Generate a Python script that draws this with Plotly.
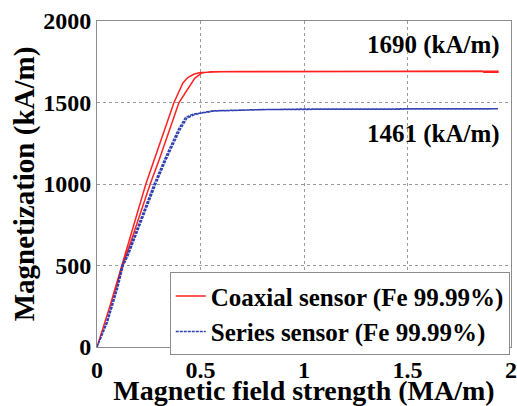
import plotly.graph_objects as go

# Coaxial sensor (Fe 99.99%) - ascending branch then descending branch
coax_up_H = [0, 0.06, 0.125, 0.257, 0.30, 0.396, 0.44, 0.473, 0.507, 0.55, 0.7, 1.0, 1.5, 1.86, 1.87, 1.937]
coax_up_M = [0, 235, 500, 1000, 1147, 1500, 1590, 1650, 1681, 1688, 1690, 1691, 1691, 1691, 1686, 1686]
coax_dn_H = [1.937, 1.5, 1.0, 0.8, 0.6, 0.5, 0.47, 0.44, 0.415, 0.372, 0.275, 0.236, 0.12, 0.06, 0]
coax_dn_M = [1691, 1691, 1691, 1690, 1688, 1684, 1675, 1655, 1620, 1500, 1147, 1000, 500, 240, 0]

# Series sensor (Fe 99.99%)
ser_up_H = [0, 0.05, 0.1, 0.127, 0.15, 0.284, 0.333, 0.40, 0.435, 0.47, 0.507, 0.57, 0.8, 1.0, 1.5, 1.937]
ser_up_M = [0, 150, 362, 500, 560, 1000, 1147, 1330, 1405, 1425, 1435, 1448, 1456, 1460, 1461, 1461]
ser_dn_H = [1.937, 1.5, 1.0, 0.8, 0.56, 0.50, 0.46, 0.427, 0.392, 0.325, 0.276, 0.143, 0.12, 0.095, 0.045, 0]
ser_dn_M = [1461, 1461, 1460, 1457, 1449, 1437, 1427, 1407, 1332, 1147, 1000, 560, 500, 362, 150, 0]

x_ticks = [0, 0.5, 1, 1.5, 2]
x_ticklabels = ["0", "0.5", "1", "1.5", "2"]
y_ticks = [0, 500, 1000, 1500, 2000]
y_ticklabels = ["0", "500", "1000", "1500", "2000"]

series_names = ["Coaxial sensor (Fe 99.99%)", "Series sensor (Fe 99.99%)"]
sat_labels = ["1690 (kA/m)", "1461 (kA/m)"]

FONT = "Liberation Serif, Times New Roman, serif"
RED = "#ff2020"
BLUE = "#2f3fb0"


def b(s):
    return "<b>" + s + "</b>"


fig = go.Figure()
fig.add_trace(go.Scatter(x=coax_up_H + coax_dn_H, y=coax_up_M + coax_dn_M, mode="lines",
                         line=dict(color=RED, width=1.5), name=b(series_names[0])))
fig.add_trace(go.Scatter(x=ser_up_H + ser_dn_H, y=ser_up_M + ser_dn_M, mode="lines",
                         line=dict(color=BLUE, width=1.5, dash="3px,1px"),
                         name=b(series_names[1])))

fig.add_annotation(x=1.955, y=1853, text=b(sat_labels[0]), showarrow=False, xanchor="right",
                   yanchor="middle", font=dict(family=FONT, size=25, color="black"))
fig.add_annotation(x=1.955, y=1307, text=b(sat_labels[1]), showarrow=False, xanchor="right",
                   yanchor="middle", font=dict(family=FONT, size=25, color="black"))

axis_common = dict(showgrid=True, gridcolor="#9a9a9a", griddash="dot", gridwidth=1,
                   showline=True, linecolor="#8c8c8c", linewidth=1, mirror=True,
                   zeroline=False, automargin=False, ticks="",
                   tickfont=dict(family=FONT, size=24, color="black"))

fig.update_xaxes(range=[0, 2], tickvals=x_ticks, ticktext=[b(t) for t in x_ticklabels],
                 ticklabelstandoff=1,
                 title=dict(text=b("Magnetic field strength (MA/m)"), standoff=0,
                            font=dict(family=FONT, size=28, color="black")),
                 **axis_common)
fig.update_yaxes(range=[0, 2000], tickvals=y_ticks, ticktext=[b(t) for t in y_ticklabels],
                 title=dict(text=b("Magnetization (kA/m)"), standoff=0,
                            font=dict(family=FONT, size=29, color="black")),
                 **axis_common)

fig.update_layout(
    width=517, height=406,
    margin=dict(l=97, r=6, t=21, b=59),
    plot_bgcolor="white", paper_bgcolor="white",
    legend=dict(x=0.997, y=-0.025, xanchor="right", yanchor="bottom",
                bgcolor="white", bordercolor="#8c8c8c", borderwidth=1,
                font=dict(family=FONT, size=25, color="black"),
                itemwidth=30, tracegroupgap=0),
    showlegend=True,
)

fig.write_html("out.html")
